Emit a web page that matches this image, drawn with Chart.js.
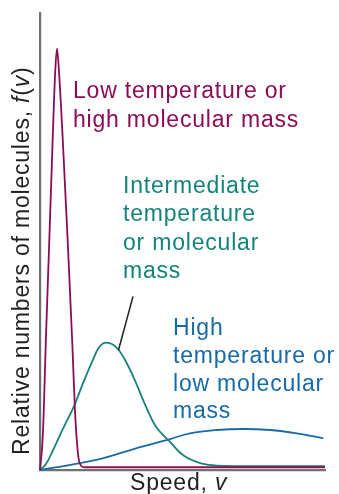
<!DOCTYPE html>
<html>
<head>
<meta charset="utf-8">
<script src="https://cdn.jsdelivr.net/npm/chart.js@4.4.1/dist/chart.umd.min.js"></script>
<style>
  html, body { margin: 0; padding: 0; background: #fff; }
  canvas { display: block; }
</style>
</head>
<body>
<canvas id="chart" width="339" height="494"></canvas>
<script>
// speeds and relative numbers (arbitrary units, 0-100)
const lowSpeed = [0, 1.02, 2.14, 3.26, 4.46, 5.33, 5.96, 6.67, 7.96, 9.72, 11.33, 12.28, 13.05, 13.79, 15.54, 100];
const lowCount = [0, 7.9, 30, 50.1, 72.6, 87.1, 92.2, 87.1, 72.6, 50.1, 27.8, 12.9, 5.47, 1.75, 0.6, 0.6];

const midSpeed = [0, 2.1, 4.46, 7.96, 11.82, 14.98, 18.49, 20.81, 23.16, 26.67, 30.18, 33.68, 37.19, 40.7, 45.37, 50.5, 56.5, 62.1, 70.2, 100];
const midCount = [0, 1.3, 4.2, 8.9, 13.8, 18.8, 24.0, 26.9, 27.86, 26.9, 23.7, 19.04, 13.85, 9.47, 6.3, 3.1, 1.45, 0.95, 0.85, 0.85];

const highSpeed = [0, 10.28, 22, 33.68, 45.37, 52.63, 62, 71.33, 80.7, 90.07, 99.4];
const highCount = [0, 1.09, 2.56, 4.75, 6.72, 8.03, 8.75, 8.97, 8.75, 8.03, 6.94];

const lowLabel = ["Low temperature or", "high molecular mass"];
const midLabel = ["Intermediate", "temperature", "or molecular", "mass"];
const highLabel = ["High", "temperature or", "low molecular", "mass"];

const magenta = "#8c0c55";
const teal = "#14847a";
const blue = "#176aa9";
const FONT = "'Liberation Sans', Arial, Helvetica, sans-serif";

function points(xs, ys) {
  return xs.map((x, i) => ({ x: x, y: ys[i] }));
}

function series(xs, ys, color, smooth) {
  const ds = {
    data: points(xs, ys),
    borderColor: color,
    borderWidth: 1.8,
    pointRadius: 0,
    fill: false,
    clip: 4,
  };
  if (smooth) ds.tension = 0.4;
  else ds.cubicInterpolationMode = "monotone";
  return ds;
}

const textPlugin = {
  id: "textPlugin",
  afterDraw(chart) {
    const ctx = chart.ctx;
    ctx.save();
    ctx.letterSpacing = "0.8px";
    ctx.textBaseline = "alphabetic";
    ctx.textAlign = "left";

    const block = (lines, color, x, y0, step) => {
      ctx.fillStyle = color;
      ctx.font = "23px " + FONT;
      lines.forEach((t, i) => ctx.fillText(t, x, y0 + i * step));
    };
    block(lowLabel, magenta, 73, 98, 29);
    block(midLabel, teal, 123, 193, 28.3);
    block(highLabel, blue, 173, 335, 27.8);

    // pointer from the intermediate label to its curve
    ctx.strokeStyle = "#222";
    ctx.lineWidth = 1.5;
    ctx.beginPath();
    ctx.moveTo(133, 296.5);
    ctx.lineTo(118.5, 350);
    ctx.stroke();

    // axis titles, with italic symbols
    const runs = (parts, x, y) => {
      let cx = x;
      parts.forEach(([t, italic]) => {
        ctx.font = (italic ? "italic " : "") + "23px " + FONT;
        ctx.fillText(t, cx, y);
        cx += ctx.measureText(t).width;
      });
    };
    ctx.fillStyle = "#231f20";
    runs([["Speed, ", false], ["v", true]], 130, 490);

    ctx.translate(28.5, 455);
    ctx.rotate(-Math.PI / 2);
    runs([["Relative numbers of molecules, ", false], ["f", true], ["(", false], ["v", true], [")", false]], 0, 0);
    ctx.restore();
  },
};

new Chart(document.getElementById("chart"), {
  type: "line",
  data: {
    datasets: [
      series(lowSpeed, lowCount, magenta, false),
      series(midSpeed, midCount, teal, true),
      series(highSpeed, highCount, blue, true),
    ],
  },
  options: {
    responsive: false,
    animation: false,
    devicePixelRatio: 1,
    layout: { padding: { left: 40, right: 14, top: 13, bottom: 24 } },
    plugins: { legend: { display: false }, tooltip: { enabled: false } },
    scales: {
      x: {
        type: "linear",
        min: 0,
        max: 100,
        ticks: { display: false },
        grid: { display: false, drawTicks: false },
        border: { display: true, color: "#707070", width: 2.2 },
      },
      y: {
        min: 0,
        max: 100,
        ticks: { display: false },
        grid: { display: false, drawTicks: false },
        border: { display: true, color: "#707070", width: 2.2 },
      },
    },
  },
  plugins: [textPlugin],
});
</script>
</body>
</html>
